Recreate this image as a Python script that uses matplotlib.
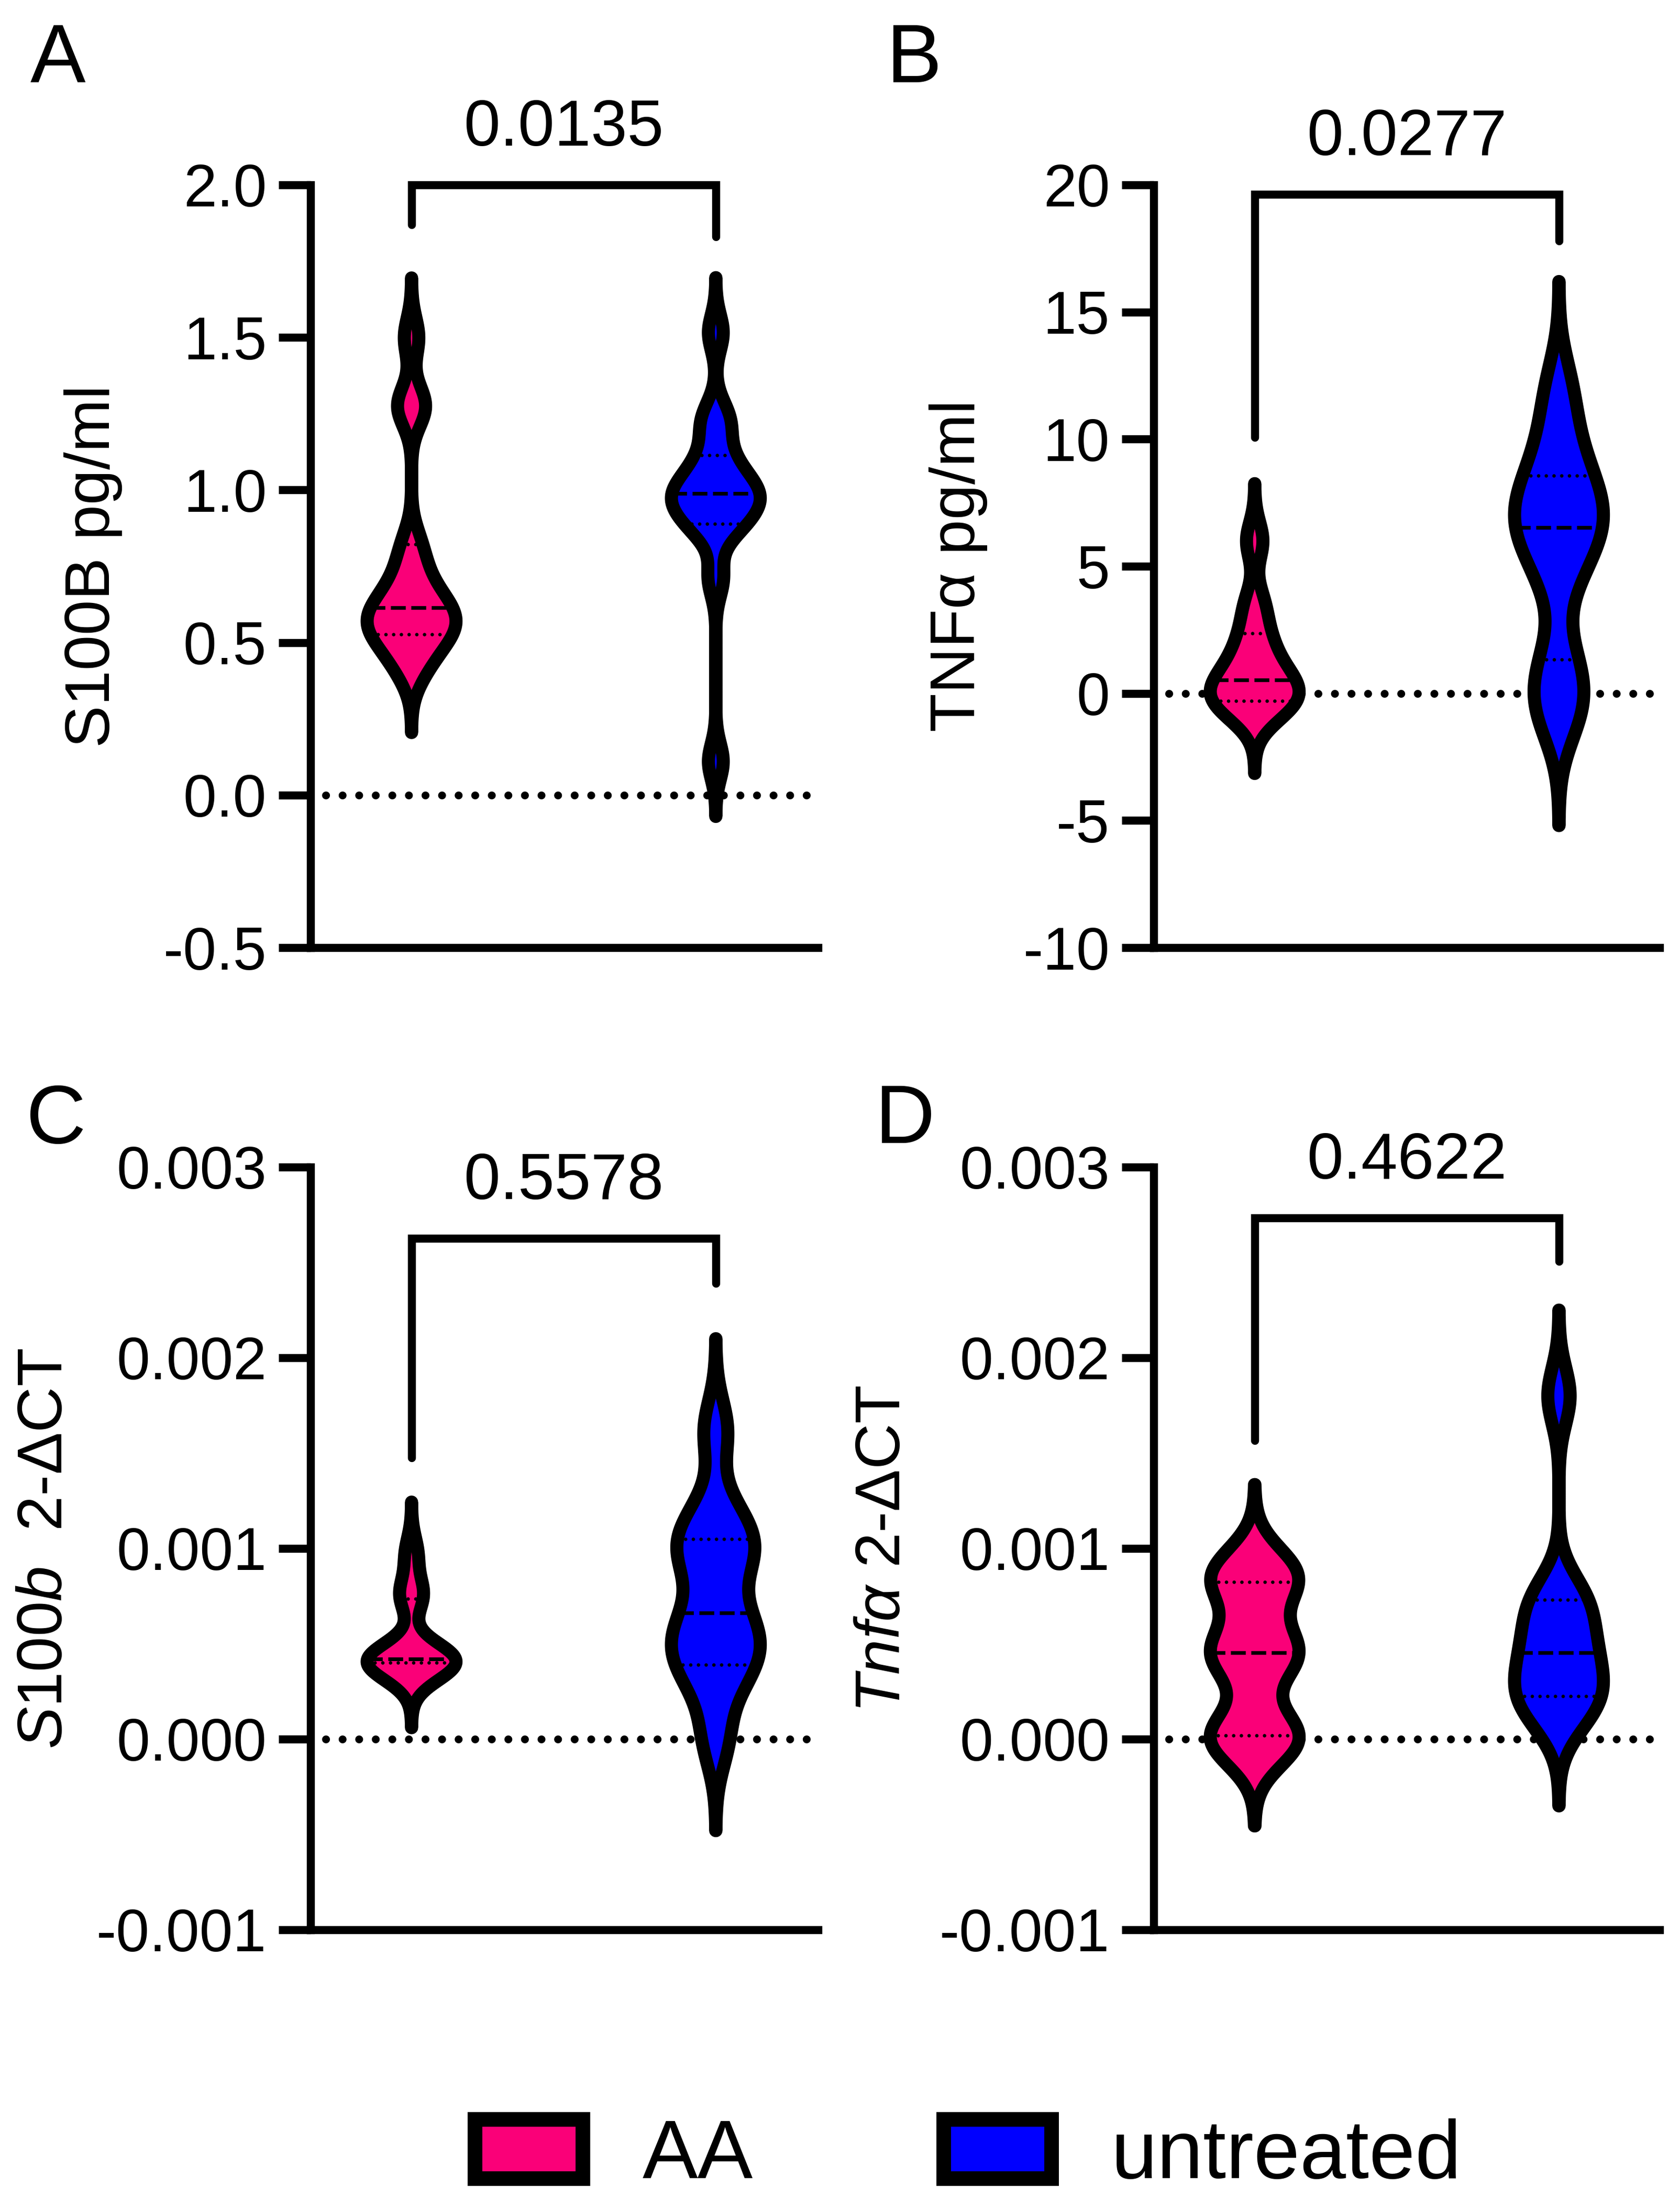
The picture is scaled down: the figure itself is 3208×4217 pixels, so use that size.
import numpy as np
import matplotlib
matplotlib.use("Agg")
import matplotlib.pyplot as plt
from matplotlib.patches import Patch
from matplotlib.ticker import FormatStrFormatter, MultipleLocator

plt.rcParams['font.family'] = ['Liberation Sans', 'DejaVu Sans']
plt.rcParams['axes.unicode_minus'] = False
plt.rcParams['mathtext.fontset'] = 'custom'
plt.rcParams['mathtext.rm'] = 'Liberation Sans'
plt.rcParams['mathtext.it'] = 'Liberation Sans:italic'

# groups and colours
groups = ['AA', 'untreated']
colors = ['#FA0078', '#0000FF']

# A: S100B pg/ml
s100b_aa = [0.40, 0.46, 0.50, 0.527, 0.55, 0.57, 0.59, 0.614, 0.64, 0.68, 0.74, 0.822, 1.26, 1.29, 1.50]
s100b_untreated = [0.11, 0.71, 0.86, 0.889, 0.92, 0.95, 0.97, 0.989, 1.00, 1.03, 1.07, 1.114, 1.20, 1.25, 1.516]

# B: TNFa pg/ml
tnf_aa = [-0.9, -0.5, -0.3, 0.0, 0.3, 0.53, 1.0, 1.6, 2.36, 3.5, 6.0]
tnf_untreated = [-1.0, 0.0, 1.33, 4.5, 5.8, 6.52, 7.0, 7.8, 8.57, 10.0, 12.0]

# C: S100b 2-dCT (x 1e-3)
s100b_mrna_aa = np.array([0.33, 0.38, 0.40, 0.405, 0.41, 0.42, 0.43, 0.46, 0.736, 0.78, 0.973]) * 1e-3
s100b_mrna_untreated = np.array([0.0, 0.30, 0.39, 0.50, 0.56, 0.662, 0.90, 1.00, 1.05, 1.20, 1.62]) * 1e-3

# D: Tnfa 2-dCT (x 1e-3)
tnf_mrna_aa = np.array([-0.02, 0.01, 0.028, 0.40, 0.453, 0.50, 0.80, 0.848, 0.90]) * 1e-3
tnf_mrna_untreated = np.array([0.10, 0.20, 0.25, 0.35, 0.453, 0.55, 0.70, 0.76, 1.80]) * 1e-3

p_values = ['0.0135', '0.0277', '0.5578', '0.4622']
# bracket: top, left leg end, right leg end
brackets = [(2.0, 1.87, 1.83), (19.63, 10.07, 17.8),
            (2.626e-3, 1.475e-3, 2.39e-3), (2.733e-3, 1.566e-3, 2.505e-3)]

W, H = 3208, 4217
def fx(px):
    return px / W
def fy(py):
    return 1 - py / H

fig = plt.figure(figsize=(W / 300, H / 300), dpi=300)

panels = [
    dict(letter='A', data=(s100b_aa, s100b_untreated), bw=(0.065, 0.06),
         ylim=(-0.5, 2.0), step=0.5, fmt='%.1f', ylabel='S100B pg/ml',
         rect=(593, 353, 969), lab=(209, 1081), let=(110, 157)),
    dict(letter='B', data=(tnf_aa, tnf_untreated), bw=(0.75, 1.4),
         ylim=(-10, 20), step=5, fmt='%d', ylabel='TNFα pg/ml',
         rect=(2203, 353, 966), lab=(1861, 1080), let=(1746, 157)),
    dict(letter='C', data=(s100b_mrna_aa, s100b_mrna_untreated), bw=(0.09e-3, 0.16e-3),
         ylim=(-0.001, 0.003), step=0.001, fmt='%.3f', ylabel=r'$\mathit{S100b}$  2-ΔCT',
         rect=(593, 2228, 969), lab=(118, 2956), let=(107, 2182)),
    dict(letter='D', data=(tnf_mrna_aa, tnf_mrna_untreated), bw=(0.145e-3, 0.15e-3),
         ylim=(-0.001, 0.003), step=0.001, fmt='%.3f', ylabel=r'$\mathit{Tnfα}$ 2-ΔCT',
         rect=(2203, 2228, 966), lab=(1718, 2957), let=(1728, 2182)),
]

ax_h = 1456
half_w = 0.146
for i, pn in enumerate(panels):
    left, top, width = pn['rect']
    ax = fig.add_axes([fx(left), fy(top + ax_h), width / W, ax_h / H])
    ax.set_xlim(-0.332, -0.332 + width / 581)
    ax.set_ylim(*pn['ylim'])
    for s in ['top', 'right']:
        ax.spines[s].set_visible(False)
    for s in ['left', 'bottom']:
        ax.spines[s].set_linewidth(3.7)
    ax.set_xticks([])
    ax.yaxis.set_major_locator(MultipleLocator(pn['step']))
    ax.yaxis.set_major_formatter(FormatStrFormatter(pn['fmt']))
    ax.tick_params(axis='y', length=14.6, width=3.7, labelsize=27.5, pad=5.5)

    ax.axhline(0, xmin=0.03, xmax=1, color='black', lw=3.6,
               ls=(0, (0.01, 2.1)), dash_capstyle='round', zorder=1)

    for j, d in enumerate(pn['data']):
        d = np.asarray(d, dtype=float)
        h = pn['bw'][j]
        y = np.linspace(d.min() - 3 * h, d.max() + 3 * h, 500)
        dens = np.exp(-0.5 * ((y[:, None] - d[None, :]) / h) ** 2).sum(axis=1)
        w = half_w * dens / dens.max()
        xs = np.concatenate([j - w, (j + w)[::-1]])
        ys = np.concatenate([y, y[::-1]])
        ax.fill(xs, ys, facecolor=colors[j], edgecolor='black', lw=6.0,
                joinstyle='round', zorder=2)
        q1, med, q3 = np.percentile(d, [25, 50, 75], method='weibull')
        for v in (q1, q3):
            wv = np.interp(v, y, w)
            ax.plot([j - wv, j + wv], [v, v], color='black', lw=1.6,
                    ls=(0, (0.01, 2.2)), dash_capstyle='round', zorder=3)
        wv = np.interp(med, y, w)
        ax.plot([j - wv, j + wv], [med, med], color='black', lw=1.7,
                ls=(0, (4, 1.5)), zorder=3)

    btop, bl, br = brackets[i]
    ax.plot([0, 0, 1, 1], [bl, btop, btop, br], color='black', lw=3.7,
            solid_capstyle='round', solid_joinstyle='miter', clip_on=False)
    ax.annotate(p_values[i], xy=(0.5, btop), xytext=(0, 18), textcoords='offset points',
                ha='center', va='baseline', fontsize=30, annotation_clip=False)

    fig.text(fx(pn['lab'][0]), fy(pn['lab'][1]), pn['ylabel'], rotation=90,
             rotation_mode='anchor', ha='center', va='baseline', fontsize=29)
    fig.text(fx(pn['let'][0]), fy(pn['let'][1]), pn['letter'], ha='center',
             va='baseline', fontsize=38)

handles = [Patch(facecolor=c, edgecolor='black', lw=6.7) for c in colors]
fig.legend(handles, groups, loc='center', bbox_to_anchor=(0.5764, 0.0237), ncol=2,
           frameon=False, fontsize=38, handlelength=1.3, handleheight=0.72,
           handletextpad=0.72, columnspacing=2.3, borderpad=0)

fig.savefig('out.png', dpi=300, facecolor='white')
